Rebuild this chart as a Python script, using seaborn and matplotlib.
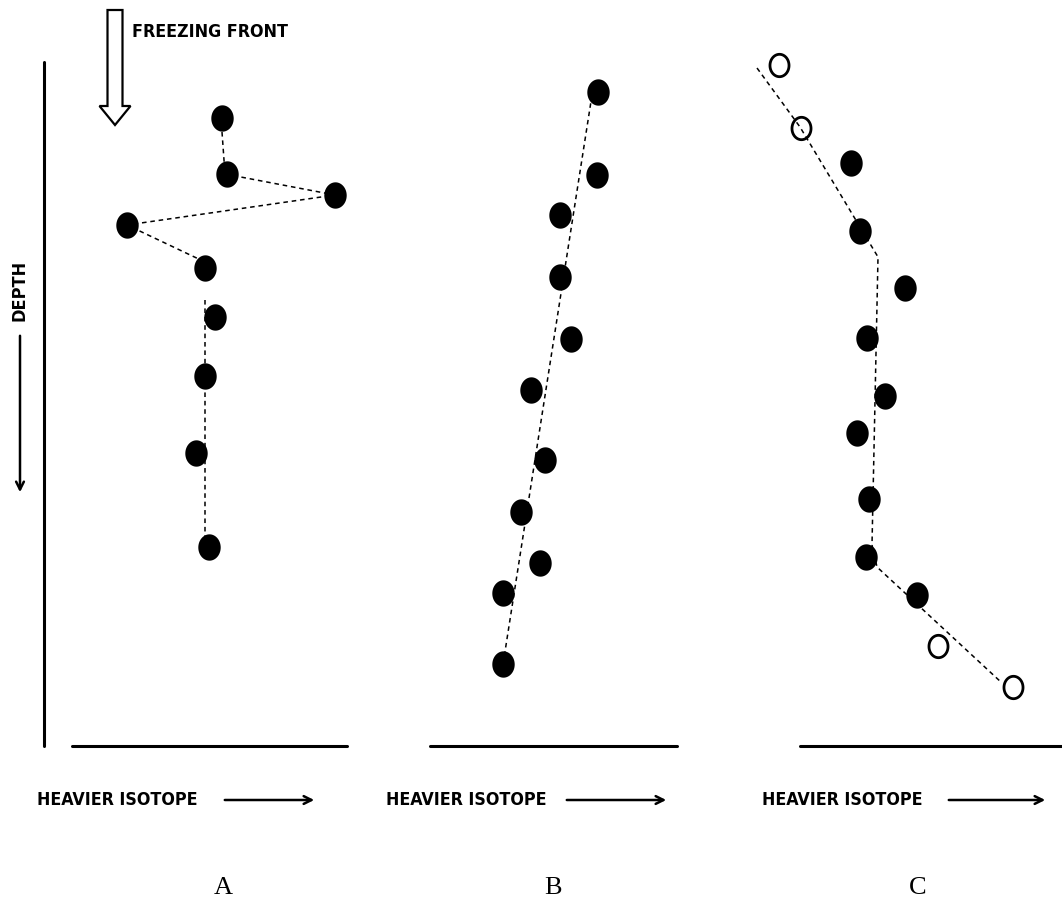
import numpy as np
import pandas as pd
import matplotlib
matplotlib.use("Agg")
import matplotlib.pyplot as plt
from matplotlib.path import Path
from matplotlib.patches import FancyArrow
import seaborn as sns

# Schematic isotope profiles (x = heavier isotope, y = depth, in px)
a_x = [222, 227, 335, 127, 205, 215, 205, 196, 209]
a_y = [118, 174, 195, 225, 268, 317, 376, 453, 547]
a_line_x = [222, 225, 335, 127, 205]
a_line_y = [132, 174, 195, 225, 262]
a_line2_x = [205, 205]
a_line2_y = [300, 540]

b_x = [598, 597, 560, 560, 571, 531, 545, 521, 540, 503, 503]
b_y = [92, 175, 215, 277, 339, 390, 460, 512, 563, 593, 664]
b_line_x = [592, 504]
b_line_y = [95, 658]

c_x = [851, 860, 905, 867, 885, 857, 869, 866, 917]
c_y = [163, 231, 288, 338, 396, 433, 499, 557, 595]
c_open_x = [779, 801, 938, 1013]
c_open_y = [65, 128, 646, 687]
c_line_x = [757, 800, 878, 872, 877, 1002]
c_line_y = [68, 127, 257, 545, 567, 683]

panels = ["A", "B", "C"]
label_x = [223, 553, 918]
xlabel_x = [37, 386, 762]
arrow_x = [(222, 317), (564, 669), (946, 1048)]
base_x = [(72, 347), (430, 677), (800, 1062)]

sns.set_style("white")
plt.rcParams["font.family"] = ["DejaVu Sans"]
plt.rcParams["text.color"] = "black"

fig = plt.figure(figsize=(10.62, 9.21), dpi=100)
ax = fig.add_axes([0, 0, 1, 1])
ax.set_xlim(0, 1062)
ax.set_ylim(921, 0)
ax.axis("off")

t = np.linspace(0, 2 * np.pi, 60)
ellipse = Path(np.column_stack([0.85 * np.cos(t), np.sin(t)]), closed=True)

dots = pd.DataFrame({"x": a_x + b_x + c_x, "y": a_y + b_y + c_y})
sns.scatterplot(data=dots, x="x", y="y", marker=ellipse, s=360, color="black",
                edgecolor="black", linewidth=0, ax=ax)
opens = pd.DataFrame({"x": c_open_x, "y": c_open_y})
sns.scatterplot(data=opens, x="x", y="y", marker=ellipse, s=260, facecolor="white",
                edgecolor="black", linewidth=2, ax=ax)

for lx, ly in [(a_line_x, a_line_y), (a_line2_x, a_line2_y), (b_line_x, b_line_y), (c_line_x, c_line_y)]:
    ln = pd.DataFrame({"x": lx, "y": ly})
    sns.lineplot(data=ln, x="x", y="y", sort=False, estimator=None, color="black",
                 linewidth=1.1, linestyle=(0, (3, 2.5)), ax=ax, zorder=1)

# depth axis and baselines
ax.plot([44, 44], [62, 746], color="black", lw=2.2)
for (x0, x1) in base_x:
    ax.plot([x0, x1], [746, 746], color="black", lw=2.2)

for x, (x0, x1) in zip(xlabel_x, arrow_x):
    ax.text(x, 800, "HEAVIER ISOTOPE", fontsize=12.8, fontweight="bold",
            fontstretch="condensed", va="center", ha="left")
    ax.annotate("", xy=(x1, 800), xytext=(x0, 800),
                arrowprops=dict(arrowstyle="->", color="black", lw=1.8, mutation_scale=14))

for x, p in zip(label_x, panels):
    ax.text(x, 888, p, fontsize=19, family="Liberation Serif", ha="center", va="center")

# DEPTH label and arrow
ax.text(20, 290, "DEPTH", rotation=90, fontsize=13, fontweight="bold",
        fontstretch="condensed", ha="center", va="center")
ax.annotate("", xy=(20, 495), xytext=(20, 333),
            arrowprops=dict(arrowstyle="->", color="black", lw=1.8, mutation_scale=14))

# freezing front hollow arrow
ax.add_patch(FancyArrow(115, 10, 0, 115, width=15, head_width=31, head_length=19,
                        length_includes_head=True, facecolor="white", edgecolor="black", lw=1.6))
ax.text(132, 32, "FREEZING FRONT", fontsize=12.8, fontweight="bold",
        fontstretch="condensed", ha="left", va="center")

fig.savefig("out.png", dpi=100)
